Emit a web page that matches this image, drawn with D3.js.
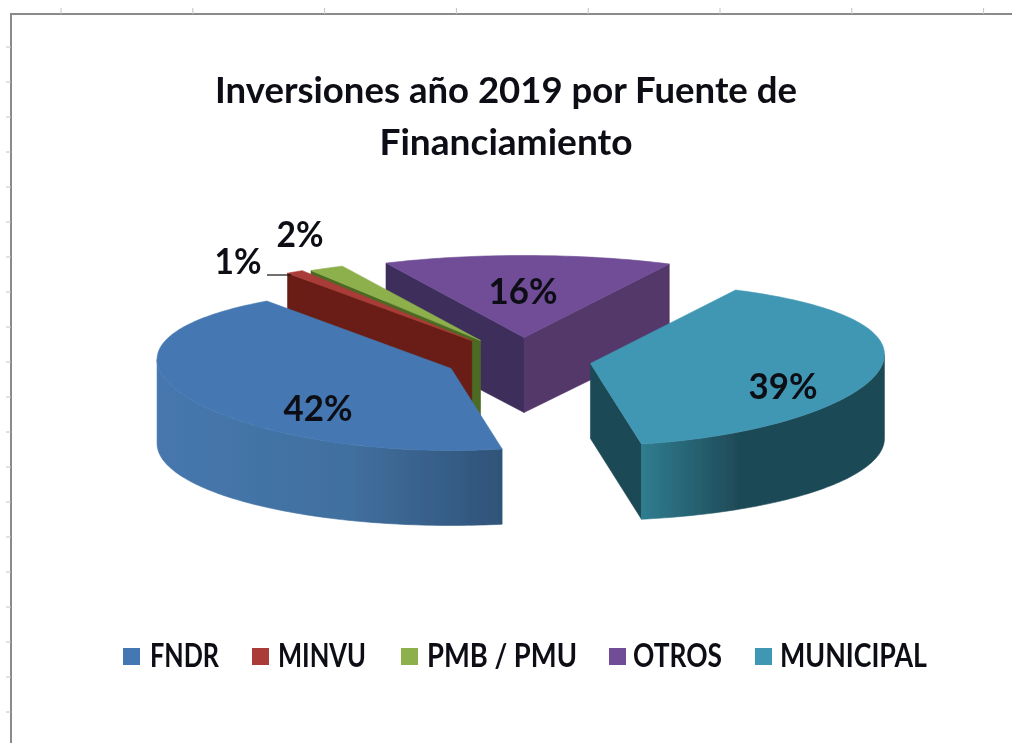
<!DOCTYPE html>
<html><head><meta charset="utf-8">
<style>html,body{margin:0;padding:0;background:#fff}svg{display:block}text{font-family:Lato,"Open Sans",sans-serif;font-weight:700;fill:#0d0d14}</style>
<script src="https://cdn.jsdelivr.net/npm/d3@7/dist/d3.min.js"></script>
</head><body><svg id="c" width="1012" height="743"></svg>
<script>
const titleLines = ["Inversiones año 2019 por Fuente de", "Financiamiento"];
const categories = ["FNDR", "MINVU", "PMB / PMU", "OTROS", "MUNICIPAL"];
const values = [42, 1, 2, 16, 39];
const topColors = ["#4478b2", "#a93a37", "#8db04e", "#6f4e96", "#4197b4"];
const wallStops = [
  [[0,"#4677ae"],[0.55,"#41709f"],[1,"#2f5379"]],
  [[0,"#6e1f12"],[1,"#5e1a10"]],
  [[0,"#5b7a2c"],[1,"#3f5a20"]],
  [[0,"#553768"],[1,"#523565"]],
  [[0,"#2f7d90"],[0.4,"#1f4a57"],[1,"#1f4a57"]]
];
const startWall = ["#2f5379", "#6a1d12", "#4c6a24", "#3d2f5c", "#1f4a57"];
const endWall   = ["#2f5379", "#6a1d12", "#4c6a24", "#54376a", "#1f4a57"];

const W = 1012, H = 743;
const cx = 518, cy = 360, rx = 294, ry = 82, depth = 75, explode = 0.25, bulge = 9;
const nudge = [[0,0],[-2,-3],[1,-2],[5,-2],[0,0]];
const startDeg = 170;
const svg = d3.select("#c");
const defs = svg.append("defs");
defs.append("filter").attr("id","soft").append("feGaussianBlur").attr("stdDeviation",0.7);
defs.append("filter").attr("id","softText").append("feGaussianBlur").attr("stdDeviation",0.45);

// frame and faint ruler ticks
const frame = svg.append("g");
frame.append("path").attr("d",`M11,${H}V14H${W}`).attr("fill","none").attr("stroke","#8a8a8a").attr("stroke-width",2);
frame.selectAll(".tx").data(d3.range(0,8)).join("line")
  .attr("x1",i=>61+i*131.8).attr("x2",i=>61+i*131.8).attr("y1",8).attr("y2",14).attr("stroke","#c4c4c4");
frame.selectAll(".ty").data(d3.range(0,20)).join("line")
  .attr("y1",i=>47+i*35).attr("y2",i=>47+i*35).attr("x1",6).attr("x2",11).attr("stroke","#c4c4c4");

// title
svg.selectAll(".title").data(titleLines).join("text").attr("class","title")
  .attr("x",506).attr("y",(d,i)=>i?155:103).attr("text-anchor","middle")
  .attr("font-size",36).attr("filter","url(#softText)")
  .attr("textLength",(d,i)=>i?253:582).attr("lengthAdjust","spacingAndGlyphs")
  .text(d=>d);

// pie
const pie = d3.pie().sort(null).value(d=>d)
  .startAngle(startDeg*Math.PI/180).endAngle((startDeg+360)*Math.PI/180);
const arcs = pie(values).map((a,i)=>{
  const mid=(a.startAngle+a.endAngle)/2;
  return {...a,i,mid,
    ox:explode*rx*Math.sin(mid)+nudge[i][0],
    oy:-explode*ry*Math.cos(mid)+nudge[i][1]};
});
const pt=(s,a,dz=0)=>[cx+s.ox+rx*Math.sin(a),
  cy+s.oy-ry*Math.cos(a)+dz-(dz?0:bulge*Math.sin(a)**2)];
const apex=(s,dz=0)=>[cx+s.ox,cy+s.oy+dz];
const sampled=(a0,a1,f)=>{const n=Math.max(2,Math.ceil((a1-a0)/0.02));return d3.range(n+1).map(k=>f(a0+(a1-a0)*k/n));};
const line=d3.line();
const pieG=svg.append("g").attr("filter","url(#soft)");

const order=arcs.slice().sort((p,q)=>Math.cos(q.mid)-Math.cos(p.mid));
order.forEach(s=>{
  const g=pieG.append("g");
  const gid="w"+s.i;
  const turn=s.endAngle>Math.PI*2.5?Math.PI*2:0;
  const frontA=Math.max(s.startAngle,Math.PI/2+turn);
  const frontB=Math.min(s.endAngle,Math.PI*1.5+turn);
  // radial walls facing the viewer
  [[s.startAngle,Math.sin(s.startAngle)<0,startWall[s.i]],[s.endAngle,Math.sin(s.endAngle)>0,endWall[s.i]]].forEach(([a,vis,col])=>{
    if(!vis)return;
    g.append("path").attr("d",line([apex(s),pt(s,a),pt(s,a,depth),apex(s,depth)])+"Z")
      .attr("fill",col).attr("stroke",col).attr("stroke-width",0.6);
  });
  // outer wall
  if(frontB>frontA){
    const xa=pt(s,frontA)[0], xb=pt(s,frontB)[0];
    const grad=defs.append("linearGradient").attr("id",gid).attr("gradientUnits","userSpaceOnUse")
      .attr("x1",Math.min(xa,xb)).attr("x2",Math.max(xa,xb)).attr("y1",0).attr("y2",0);
    wallStops[s.i].forEach(([o,c])=>grad.append("stop").attr("offset",o).attr("stop-color",c));
    const upper=sampled(frontA,frontB,a=>pt(s,a));
    const lower=sampled(frontA,frontB,a=>pt(s,a,depth)).reverse();
    g.append("path").attr("d",line(upper.concat(lower))+"Z").attr("fill",`url(#${gid})`)
      .attr("stroke",`url(#${gid})`).attr("stroke-width",0.6);
  }
  // top surface
  const rim=sampled(s.startAngle,s.endAngle,a=>pt(s,a));
  g.append("path").attr("d",line([apex(s)].concat(rim))+"Z").attr("fill",topColors[s.i])
    .attr("stroke",topColors[s.i]).attr("stroke-width",0.6);
});

// data labels
const pct=values.map(v=>v+"%");
const labelPos=[[318,421],[238,274],[300,247],[523,304],[783,399]];
svg.selectAll(".lab").data(pct).join("text").attr("class","lab")
  .attr("x",(d,i)=>labelPos[i][0]).attr("y",(d,i)=>labelPos[i][1])
  .attr("text-anchor","middle").attr("font-size",36).attr("filter","url(#softText)")
  .attr("textLength",(d,i)=>d.length>2?69:47).attr("lengthAdjust","spacingAndGlyphs").text(d=>d);
svg.append("line").attr("x1",267).attr("x2",291).attr("y1",275).attr("y2",275).attr("stroke","#111").attr("stroke-width",1.2);

// legend
const legX=[123,252,401,609,755], legTx=[150,278,427,633,780], legW=[69,88,150,89,147];
const leg=svg.selectAll(".leg").data(categories).join("g").attr("class","leg");
leg.append("rect").attr("x",(d,i)=>legX[i]).attr("y",648).attr("width",17).attr("height",17).attr("fill",(d,i)=>topColors[i]).attr("filter","url(#softText)");
leg.append("text").attr("x",(d,i)=>legTx[i]).attr("y",667).attr("font-size",32).attr("filter","url(#softText)")
  .attr("textLength",(d,i)=>legW[i]).attr("lengthAdjust","spacingAndGlyphs").text(d=>d);
</script></body></html>
